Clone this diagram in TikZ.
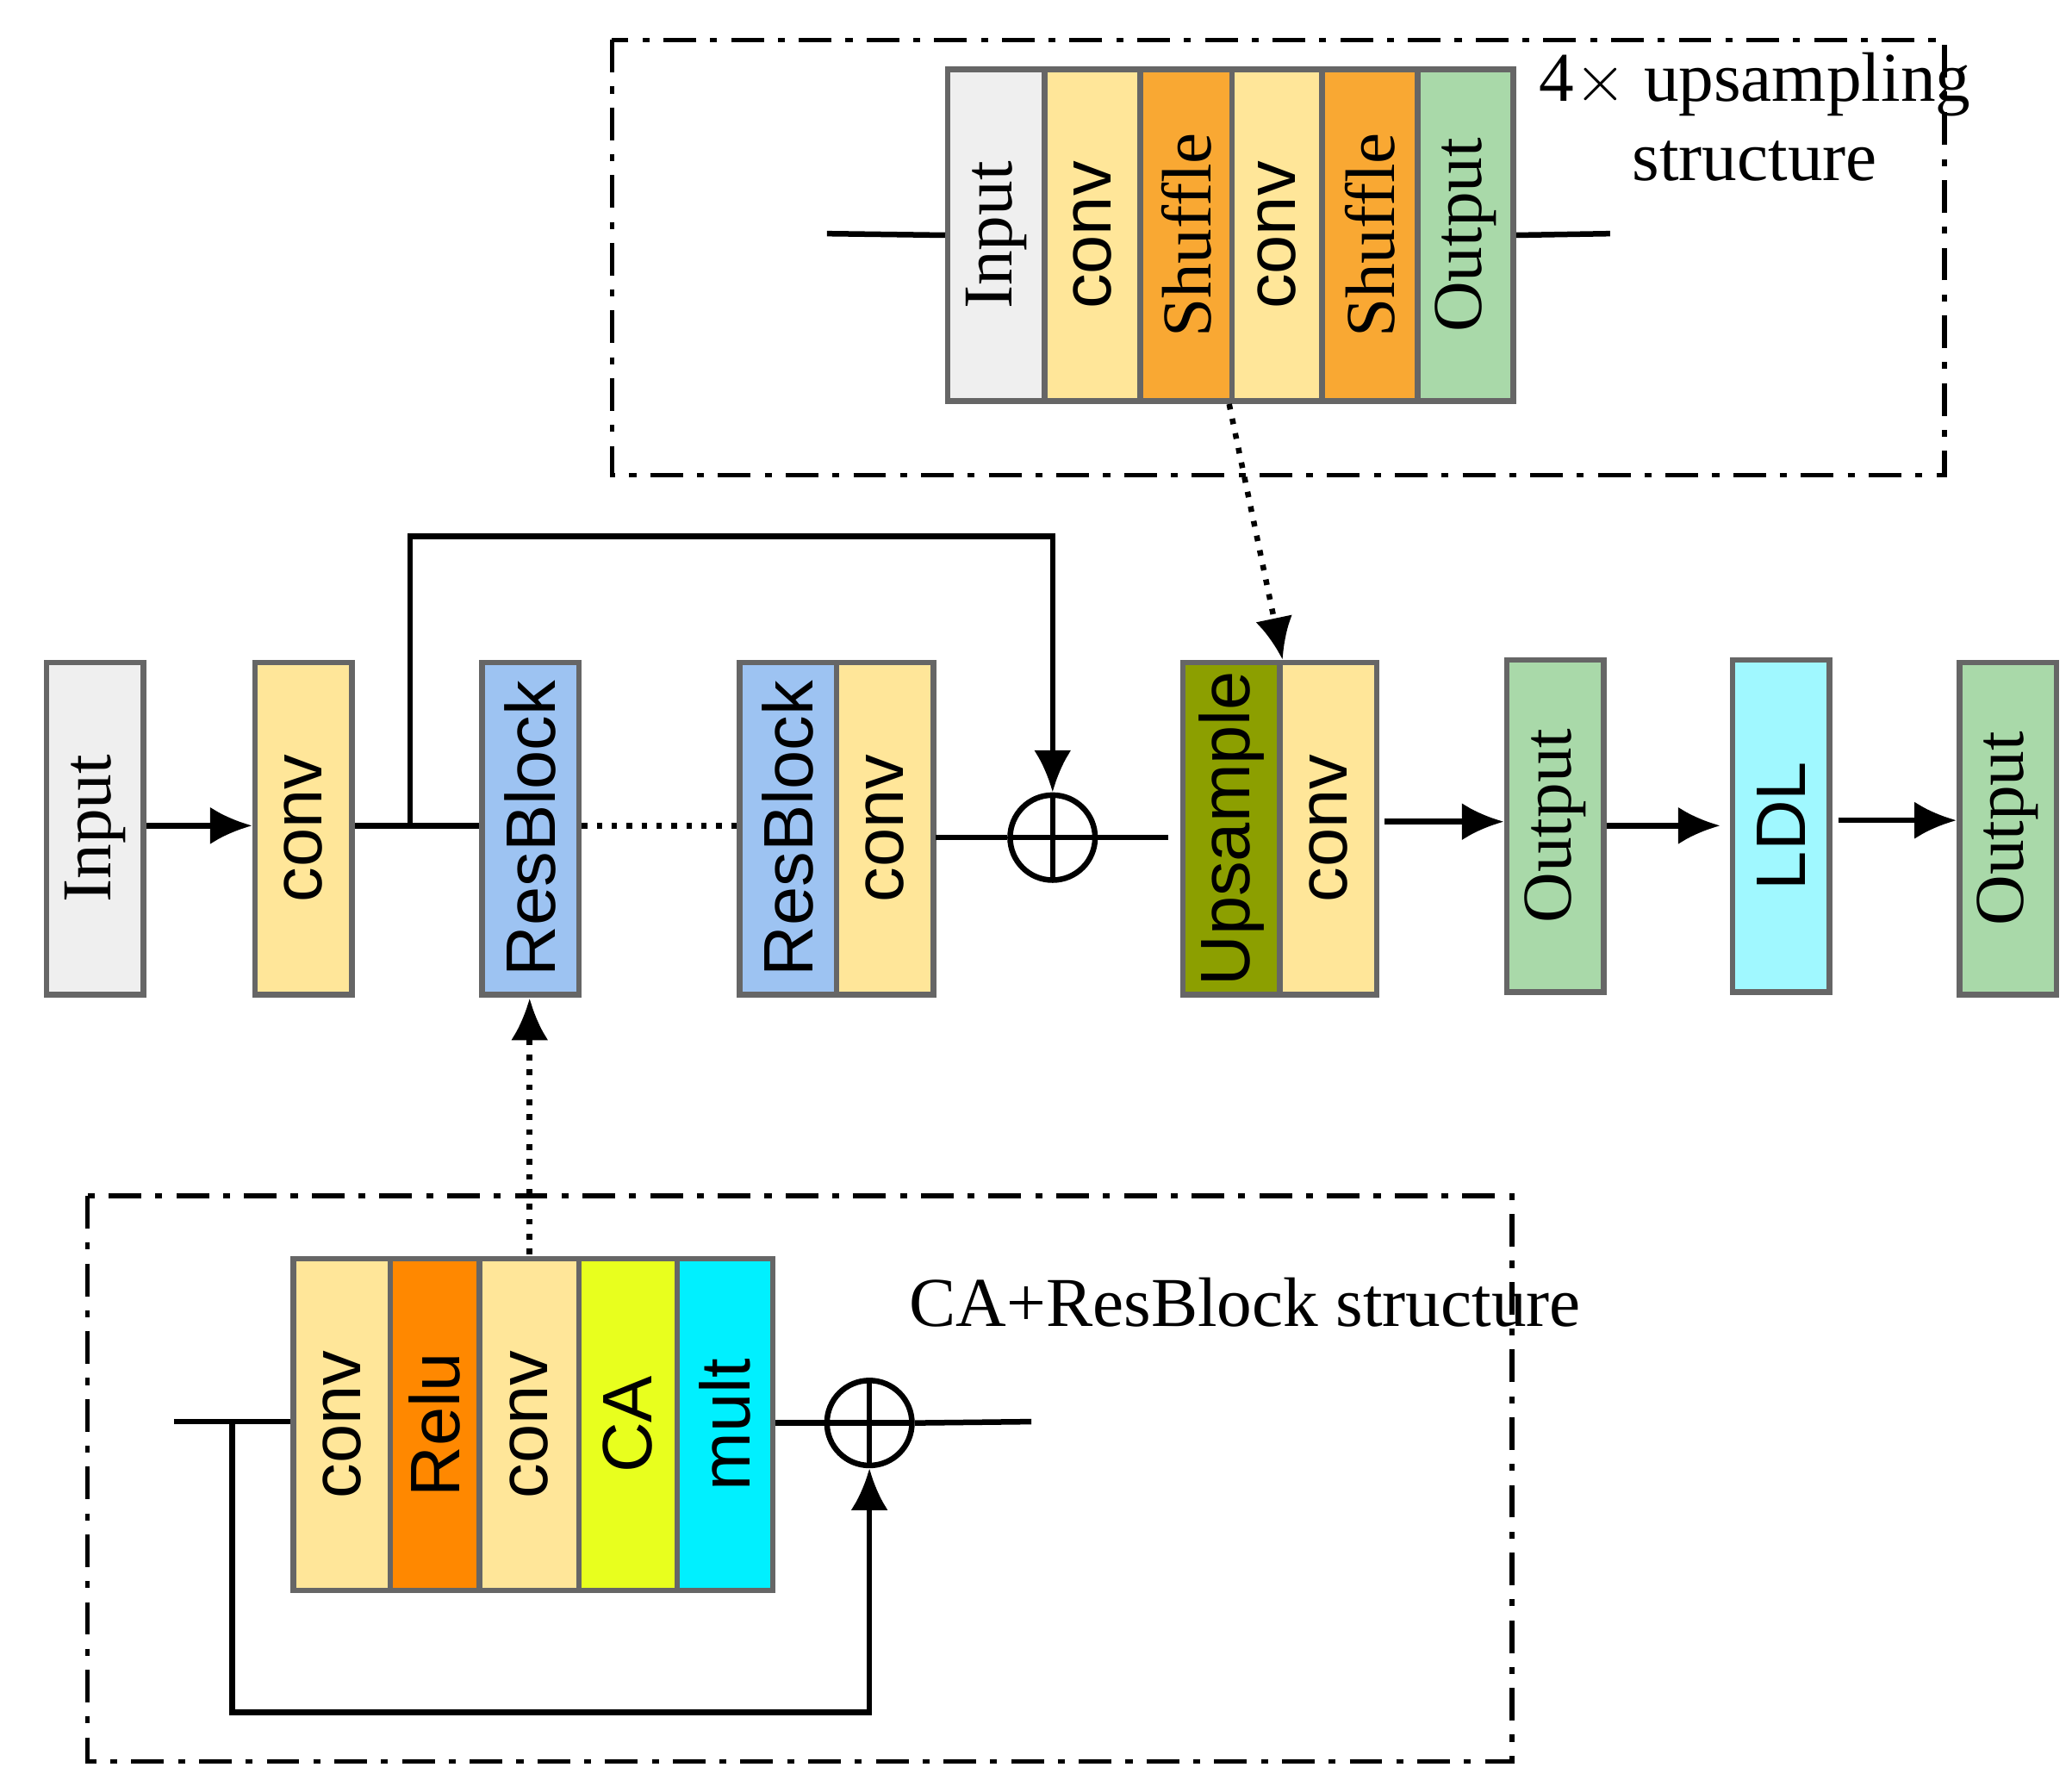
\documentclass[tikz,border=0pt]{standalone}
\usepackage{fontspec}
\setmainfont{Liberation Serif}
\setsansfont{Liberation Sans}
\usetikzlibrary{arrows.meta}
\definecolor{cgray}{HTML}{EFEFEF}
\definecolor{cyel}{HTML}{FFE699}
\definecolor{corg}{HTML}{F9A833}
\definecolor{cgrn}{HTML}{A9D9A9}
\definecolor{cblu}{HTML}{9DC3F2}
\definecolor{colv}{HTML}{8C9F00}
\definecolor{crelu}{HTML}{FF8800}
\definecolor{cca}{HTML}{E8FF1E}
\definecolor{cmul}{HTML}{00F0FF}
\definecolor{cldl}{HTML}{A0F8FF}
\begin{document}
\begin{tikzpicture} [
    x=0.01cm, y=-0.01cm,
    block/.style    = { rectangle, draw=black!60, line width=1.2pt, inner sep=0pt,
                        minimum width=0.73cm, minimum height=2.5cm, anchor=north west,
                        font=\fontsize{15}{17}\selectfont },
    serif/.style    = { font=\rmfamily\fontsize{15}{17}\selectfont },
    sans/.style     = { font=\sffamily\fontsize{15}{17}\selectfont },
    line/.style     = { draw, line width=1.2pt },
    arr/.style      = { line, -{Latex[length=9pt,width=8pt]} },
    dots/.style     = { line, dotted },
    frame/.style    = { draw, line width=1pt, dash pattern=on 7pt off 3pt on 1.5pt off 3pt },
    sum/.style      = { circle, draw, line width=1.2pt, minimum size=0.64cm, inner sep=0pt,
                        path picture={\draw[line width=1.2pt] (path picture bounding box.north) -- (path picture bounding box.south)
                          (path picture bounding box.west) -- (path picture bounding box.east);} },
  ]
  \useasboundingbox (0,0) rectangle (1561,1345);

  % upsampling structure
  \draw[frame] (461,30) rectangle (1465,358);
  \node[block, serif, fill=cgray] (uin) at (712,50) {\rotatebox{90}{Input}};
  \node[block, sans, fill=cyel, minimum width=0.72cm] (uc1) at (785,50) {\rotatebox{90}{conv}};
  \node[block, serif, fill=corg, minimum width=0.69cm] (us1) at (857,50) {\rotatebox{90}{Shuffle}};
  \node[block, sans, fill=cyel, minimum width=0.68cm] (uc2) at (926,50) {\rotatebox{90}{conv}};
  \node[block, serif, fill=corg, minimum width=0.72cm] (us2) at (994,50) {\rotatebox{90}{Shuffle}};
  \node[block, serif, fill=cgrn, minimum width=0.72cm] (uout) at (1066,50) {\rotatebox{90}{Output}};
  \node[serif, align=center] (utitle) at (1322,88) {4$\times$ upsampling\\structure};
  \coordinate (uL) at (623,176);
  \coordinate (uR) at (1213,176);
  \path[line] (uL) -- (uin.west);
  \path[line] (uout.east) -- (uR);

  % main row
  \node[block, serif, fill=cgray] (in) at (33,497) {\rotatebox{90}{Input}};
  \node[block, sans, fill=cyel] (c1) at (190,497) {\rotatebox{90}{conv}};
  \node[block, sans, fill=cblu] (rb1) at (361,497) {\rotatebox{90}{ResBlock}};
  \node[block, sans, fill=cblu] (rb2) at (555,497) {\rotatebox{90}{ResBlock}};
  \node[block, sans, fill=cyel] (c2) at (628,497) {\rotatebox{90}{conv}};
  \node[sum] (add1) at (793,631) {};
  \node[block, sans, fill=colv] (up) at (889,497) {\rotatebox{90}{Upsample}};
  \node[block, sans, fill=cyel] (c3) at (962,497) {\rotatebox{90}{conv}};
  \node[block, serif, fill=cgrn] (o1) at (1133,495) {\rotatebox{90}{Output}};
  \node[block, sans, fill=cldl] (ldl) at (1303,495) {\rotatebox{90}{LDL}};
  \node[block, serif, fill=cgrn] (o2) at (1474,497) {\rotatebox{90}{Output}};

  \coordinate (br) at (309,622);
  \coordinate (c2o) at (705,631);
  \coordinate (upi) at (880,631);
  \path[arr] (in.east |- 0,622) -- (c1.west |- 0,622);
  \path[line] (c1.east |- 0,622) -- (rb1.west |- 0,622);
  \path[dots] (rb1.east |- 0,622) -- (rb2.west |- 0,622);
  \path[arr] (br) -- (309,404) -- (793,404) -- (add1.north);
  \path[line] (c2o) -- (add1.west);
  \path[line] (add1.east) -- (upi);
  \path[arr] (1043,619) -- (o1.west |- 0,619);
  \path[arr] (o1.east |- 0,622) -- (1296,622);
  \path[arr] (1385,618) -- (o2.west |- 0,618);
  \path[dots, -{Latex[length=9pt,width=8pt]}] (uc2.south west) -- (up.north east);

  % CA+ResBlock structure
  \draw[frame] (66,901) rectangle (1139,1327);
  \node[block, sans, fill=cyel] (bc1) at (219,946) {\rotatebox{90}{conv}};
  \node[block, sans, fill=crelu, minimum width=0.67cm] (relu) at (292,946) {\rotatebox{90}{Relu}};
  \node[block, sans, fill=cyel, minimum width=0.75cm] (bc2) at (359,946) {\rotatebox{90}{conv}};
  \node[block, sans, fill=cca, minimum width=0.74cm] (ca) at (434,946) {\rotatebox{90}{CA}};
  \node[block, sans, fill=cmul, minimum width=0.72cm] (mult) at (508,946) {\rotatebox{90}{mult}};
  \node[sum] (add2) at (655,1072) {};
  \node[serif] (btitle) at (938,981) {CA+ResBlock structure};
  \coordinate (bL) at (131,1071);
  \coordinate (bbr) at (175,1071);
  \coordinate (bR) at (777,1071);
  \path[line] (bL) -- (bc1.west |- bL);
  \path[line] (mult.east |- 0,1072) -- (add2.west);
  \path[line] (add2.east) -- (bR);
  \path[arr] (bbr) -- (175,1290) -- (655,1290) -- (add2.south);
  \path[dots, -{Latex[length=9pt,width=8pt]}] (399,945) -- (399,752);
\end{tikzpicture}
\end{document}
